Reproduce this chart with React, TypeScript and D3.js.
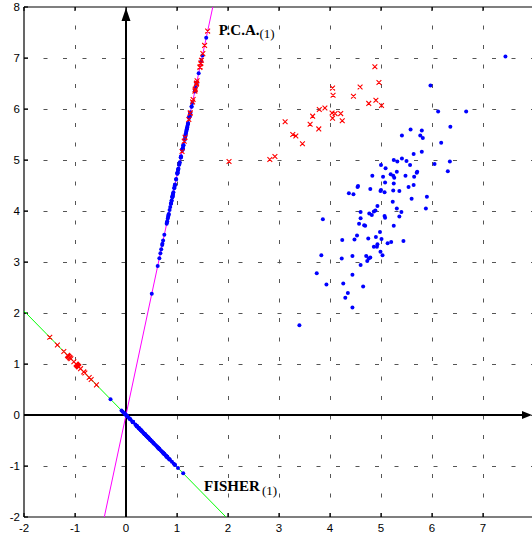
import React from 'react';
import * as d3 from 'd3';

const xTicks = [-2, -1, 0, 1, 2, 3, 4, 5, 6, 7];
const yTicks = [-2, -1, 0, 1, 2, 3, 4, 5, 6, 7, 8];
const gridX = [-1, 0, 1, 2, 3, 4, 5, 6, 7];
const gridY = [-1, 0, 1, 2, 3, 4, 5, 6, 7];

// class 1 (red crosses)
const classAX = [2.02, 2.82, 2.92, 3.12, 3.27, 3.33, 3.46, 3.61, 3.66, 3.78, 3.79, 3.90, 4.05, 4.06, 4.04, 4.05, 4.10, 4.21, 4.24, 4.46, 4.59, 4.88, 4.96, 4.76, 4.90, 5.01];
const classAY = [4.97, 5.01, 5.07, 5.75, 5.50, 5.47, 5.32, 5.70, 5.86, 5.61, 5.99, 6.02, 6.41, 6.27, 5.92, 5.82, 5.91, 5.91, 5.77, 6.25, 6.43, 6.83, 6.52, 6.11, 6.17, 6.07];

// class 2 (blue dots)
const classBX = [
  5.58, 6.36, 5.80, 5.41, 5.77, 5.82, 6.18, 5.64, 5.80, 5.41,
  5.25, 5.32, 5.50, 5.00, 5.09, 5.57, 6.05, 6.35, 6.31, 5.31,
  5.71, 5.70, 5.19, 5.24, 5.26, 4.83, 5.48, 5.65, 5.04, 5.08,
  5.25, 5.64, 5.54, 4.55, 4.54, 4.79, 5.00, 4.99, 5.07, 5.24,
  5.36, 4.37, 4.46, 5.60, 5.90, 5.23, 4.93, 5.31, 5.88, 4.60,
  5.40, 4.89, 4.86, 4.77, 4.82, 5.07, 5.08, 5.36, 4.60, 3.86,
  4.57, 4.67, 4.69, 5.25, 4.98, 4.53, 4.24, 4.48, 4.75, 4.90,
  5.01, 5.44, 4.93, 4.86, 4.92, 5.13, 5.20, 4.99, 5.03, 3.83,
  4.44, 4.71, 4.23, 4.79, 4.76, 4.73, 4.60, 3.74, 4.44, 3.93,
  4.26, 4.65, 4.35, 4.30, 4.44, 3.40, 7.44, 5.97, 6.12, 6.67,
];
const classBY = [
  5.60, 5.65, 5.58, 5.48, 5.48, 5.43, 5.34, 5.12, 5.16, 5.03,
  5.00, 4.97, 4.98, 4.90, 4.84, 4.90, 4.92, 4.97, 4.78, 4.77,
  4.77, 4.75, 4.72, 4.69, 4.65, 4.69, 4.69, 4.67, 4.67, 4.56,
  4.54, 4.51, 4.47, 4.49, 4.47, 4.43, 4.41, 4.39, 4.37, 4.40,
  4.39, 4.35, 4.33, 4.24, 4.28, 4.18, 4.10, 4.05, 4.05, 3.98,
  3.98, 4.01, 3.99, 3.95, 3.92, 3.90, 3.87, 3.89, 3.86, 3.84,
  3.75, 3.72, 3.71, 3.71, 3.59, 3.52, 3.43, 3.44, 3.46, 3.49,
  3.45, 3.41, 3.35, 3.30, 3.30, 3.37, 3.39, 3.20, 3.13, 3.13,
  3.12, 3.12, 3.07, 3.09, 3.07, 3.02, 2.94, 2.78, 2.75, 2.56,
  2.58, 2.52, 2.39, 2.30, 2.11, 1.76, 7.03, 6.46, 5.95, 5.95,
];

// projection directions (through the origin)
const pcaDir = [0.208, 0.978];
const fisherDir = [0.70, -0.714];

const annotations = [
  { text: 'P.C.A.', sub: '(1)', x: 1.82, y: 7.45, gap: 0, dy: 3 },
  { text: 'FISHER', sub: '(1)', x: 1.53, y: -1.49, gap: 2, dy: 4 },
];

function unit(d: number[]) {
  const n = Math.hypot(d[0], d[1]);
  return [d[0] / n, d[1] / n];
}

function project(px: number, py: number, dir: number[]) {
  const u = unit(dir);
  const t = px * u[0] + py * u[1];
  return [t * u[0], t * u[1]];
}

export default function App() {
  const W = 532;
  const H = 539;
  const x = d3.scaleLinear().domain([-2, 8]).range([24, 534]);
  const y = d3.scaleLinear().domain([-2, 8]).range([517, 7]);
  const left = x(-2), right = x(8), top = y(8), bottom = y(-2);

  const ptsA = classAX.map((v, i) => [v, classAY[i]]);
  const ptsB = classBX.map((v, i) => [v, classBY[i]]);

  const line = d3.line<number[]>().x((d) => x(d[0])).y((d) => y(d[1]));
  const dirLine = (dir: number[]) => {
    const u = unit(dir);
    return line([[-20 * u[0], -20 * u[1]], [20 * u[0], 20 * u[1]]]) || '';
  };

  const s = 2.4;
  const cross = (cx: number, cy: number) =>
    `M${cx - s},${cy - s}L${cx + s},${cy + s}M${cx - s},${cy + s}L${cx + s},${cy - s}`;

  const projA = (dir: number[]) => ptsA.map((p) => project(p[0], p[1], dir));
  const projB = (dir: number[]) => ptsB.map((p) => project(p[0], p[1], dir));

  const blueDots = [...ptsB, ...projB(pcaDir), ...projB(fisherDir)];
  const redCrosses = [...ptsA, ...projA(pcaDir), ...projA(fisherDir)];

  const x0 = x(0), y0 = y(0);

  return (
    <svg width={W} height={H} style={{ position: 'absolute', left: 0, top: 0, background: '#fff' }}>
      <defs>
        <clipPath id="plotClip">
          <rect x={left} y={top} width={right - left} height={bottom - top} />
        </clipPath>
      </defs>
      <rect x={0} y={0} width={W} height={H} fill="#fff" />
      {/* grid */}
      <g stroke="#555" strokeWidth={1} strokeDasharray="4,15.5" fill="none">
        {gridX.map((v) => (
          <line key={'gx' + v} x1={Math.round(x(v)) + 0.5} x2={Math.round(x(v)) + 0.5} y1={bottom} y2={top} />
        ))}
        {gridY.map((v) => (
          <line key={'gy' + v} x1={left} x2={right} y1={Math.round(y(v)) + 0.5} y2={Math.round(y(v)) + 0.5} />
        ))}
      </g>
      {/* box */}
      <g stroke="#000" strokeWidth={1.2} fill="none">
        <line x1={left} x2={left} y1={top} y2={bottom} />
        <line x1={left} x2={right} y1={bottom} y2={bottom} />
        <line x1={left} x2={right} y1={top} y2={top} />
        {xTicks.map((v) => (
          <g key={'tx' + v}>
            <line x1={x(v)} x2={x(v)} y1={bottom} y2={bottom - 4} />
            <line x1={x(v)} x2={x(v)} y1={top} y2={top + 4} />
          </g>
        ))}
        {yTicks.map((v) => (
          <line key={'ty' + v} x1={left} x2={left + 4} y1={y(v)} y2={y(v)} />
        ))}
      </g>
      {/* tick labels */}
      <g fontFamily="'Liberation Sans', Arial, sans-serif" fontSize={11.5} fill="#000">
        {xTicks.map((v) => (
          <text key={'lx' + v} x={x(v)} y={bottom + 15} textAnchor="middle">{v}</text>
        ))}
        {yTicks.map((v) => (
          <text key={'ly' + v} x={left - 4} y={y(v)} dy="0.35em" textAnchor="end">{v}</text>
        ))}
      </g>
      {/* arrow axes */}
      <g stroke="#000" strokeWidth={2}>
        <line x1={x0} x2={x0} y1={bottom} y2={top + 10} />
        <line x1={left} x2={right - 12} y1={y0} y2={y0} />
      </g>
      <path d={`M${x0},${top + 1}L${x0 - 4.5},${top + 14}L${x0 + 4.5},${top + 14}Z`} fill="#000" />
      <path d={`M${W},${y0}L${W - 10},${y0 - 4}L${W - 10},${y0 + 4}Z`} fill="#000" />
      {/* projection lines and points */}
      <g clipPath="url(#plotClip)">
        <path d={dirLine(pcaDir)} stroke="#ff00ff" strokeWidth={1} fill="none" />
        <path d={dirLine(fisherDir)} stroke="#00ff00" strokeWidth={1} fill="none" />
        {blueDots.map((p, i) => (
          <circle key={'b' + i} cx={x(p[0])} cy={y(p[1])} r={2} fill="#0000ff" />
        ))}
        <path
          d={redCrosses.map((p) => cross(x(p[0]), y(p[1]))).join('')}
          stroke="#ff0000"
          strokeWidth={1.1}
          fill="none"
        />
      </g>
      {/* annotations */}
      {annotations.map((a) => (
        <text
          key={a.text}
          x={x(a.x)}
          y={y(a.y)}
          fontFamily="'Liberation Serif', 'Times New Roman', serif"
          fontWeight="bold"
          fontSize={15}
          fill="#000"
        >
          {a.text}
          <tspan fontWeight="normal" fontSize={13} dx={a.gap} dy={a.dy}>{a.sub}</tspan>
        </text>
      ))}
    </svg>
  );
}
